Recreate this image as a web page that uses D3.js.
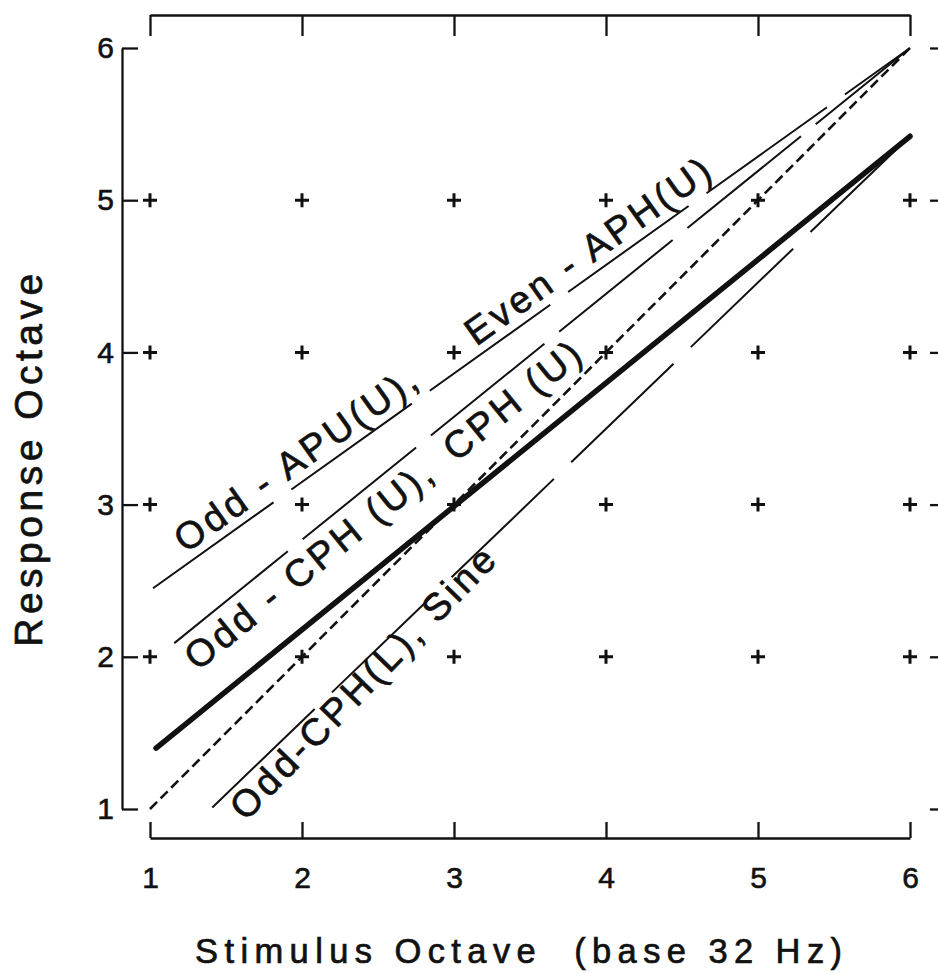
<!DOCTYPE html>
<html>
<head>
<meta charset="utf-8">
<script src="https://cdn.jsdelivr.net/npm/d3@7"></script>
<style>
  body { margin: 0; background: #fff; }
  svg { display: block; }
  text { font-family: "Liberation Sans", Arial, Helvetica, sans-serif; fill: #111; }
</style>
</head>
<body>
<div id="chart"></div>
<script>
// axis ticks (octaves)
var xTicks = [1, 2, 3, 4, 5, 6];
var yTicks = [1, 2, 3, 4, 5, 6];

// grid of little crosses
var gridX = [1, 2, 3, 4, 5, 6];
var gridY = [2, 3, 4, 5];

// lines, [stimulus, response] end points
var identityLine = [[1, 1], [6, 6]];
var meanLine = [[1.04, 1.40], [6.0, 5.42]];
var apuLine = [[1.02, 2.45], [6, 6]];
var cphULine = [[1.16, 2.09], [6, 6]];
var cphLLine = [[1.41, 1.01], [6, 5.42]];

// labels written along the thin lines
var labelTexts = ["Odd - APU(U),", "Even - APH(U)", "Odd - CPH (U),", "CPH (U)", "Odd-CPH(L), Sine"];
var labelLines = ["apu", "apu", "cphU", "cphU", "cphL"];
var labelStarts = [1.27, 3.18, 1.16, 2.86, 1.47];

var xTitle = "Stimulus Octave  (base 32 Hz)";
var yTitle = "Response Octave";

var width = 938;
var height = 974;

var lines = { apu: apuLine, cphU: cphULine, cphL: cphLLine };
// dash pattern of each thin line and where its label sits (px, + is below the line)
var thinDash = { apu: "148,22", cphU: "146,19", cphL: "142,24" };
var labelOffset = { apu: -9, cphU: 37, cphL: 34 };
var labelTilt = [0, 0, 0, 0, -2];   // small hand-lettering skew, degrees

var svg = d3.select("#chart")
  .append("svg")
    .attr("width", width)
    .attr("height", height);

svg.append("rect")
  .attr("width", width)
  .attr("height", height)
  .attr("fill", "#fff");

var x = d3.scaleLinear().domain([1, 6]).range([150, 910]);
var y = d3.scaleLinear().domain([1, 6]).range([809, 48]);

var line = d3.line()
  .x(function (d) { return x(d[0]); })
  .y(function (d) { return y(d[1]); });

// axes
svg.append("g")
  .attr("transform", "translate(122,0)")
  .call(d3.axisLeft(y).tickValues(yTicks).tickSize(-16).tickSizeOuter(0).tickPadding(8).tickFormat(d3.format("d")));

svg.append("g")
  .attr("transform", "translate(0,838)")
  .call(d3.axisBottom(x).tickValues(xTicks).tickSize(-16).tickSizeOuter(0).tickPadding(29).tickFormat(d3.format("d")));

svg.append("g")
  .attr("transform", "translate(0,15)")
  .call(d3.axisTop(x).tickValues(xTicks).tickSize(-21).tickSizeOuter(0).tickFormat(""));

svg.append("g")
  .attr("transform", "translate(948,0)")
  .call(d3.axisRight(y).tickValues(yTicks).tickSize(-18).tickSizeOuter(0).tickFormat(""));

svg.selectAll(".domain, .tick line")
  .attr("stroke", "#111")
  .attr("stroke-width", 2.3);

svg.selectAll(".tick text")
  .style("font-size", "30px")
  .attr("fill", "#111")
  .attr("stroke", "#111")
  .attr("stroke-width", 0.6);

// grid crosses
var cells = [];
gridY.forEach(function (gy) {
  gridX.forEach(function (gx) { cells.push([gx, gy]); });
});

svg.append("g")
  .selectAll("path")
  .data(cells)
  .enter()
  .append("path")
    .attr("transform", function (d) { return "translate(" + x(d[0]) + "," + y(d[1]) + ")"; })
    .attr("d", "M-7,0H7M0,-7V7")
    .attr("stroke", "#111")
    .attr("stroke-width", 3);

// identity (dashed)
svg.append("path")
  .attr("d", line(identityLine))
  .attr("fill", "none")
  .attr("stroke", "#111")
  .attr("stroke-width", 2.6)
  .attr("stroke-dasharray", "10,5");

// thin long-dash lines
Object.keys(lines).forEach(function (k) {
  svg.append("path")
    .attr("d", line(lines[k]))
    .attr("fill", "none")
    .attr("stroke", "#111")
    .attr("stroke-width", 2)
    .attr("stroke-dasharray", thinDash[k]);
});

// thick line
svg.append("path")
  .attr("d", line(meanLine))
  .attr("fill", "none")
  .attr("stroke", "#111")
  .attr("stroke-width", 5.5)
  .attr("stroke-linecap", "round");

// labels
labelTexts.forEach(function (t, i) {
  var k = labelLines[i];
  var l = lines[k];
  var x0 = x(l[0][0]), y0 = y(l[0][1]);
  var x1 = x(l[1][0]), y1 = y(l[1][1]);
  var ang = Math.atan2(y1 - y0, x1 - x0) * 180 / Math.PI + labelTilt[i];
  var f = (labelStarts[i] - l[0][0]) / (l[1][0] - l[0][0]);
  var px = x(labelStarts[i]);
  var py = y0 + f * (y1 - y0);
  svg.append("text")
    .attr("transform", "translate(" + px + "," + py + ") rotate(" + ang + ")")
    .attr("y", labelOffset[k])
    .attr("stroke", "#111")
    .attr("stroke-width", 0.7)
    .style("font-size", "38px")
    .style("letter-spacing", "3.6px")
    .style("white-space", "pre")
    .text(t);
});

// axis titles
svg.append("text")
  .attr("x", 195)
  .attr("y", 963)
  .attr("stroke", "#111")
  .attr("stroke-width", 0.7)
  .style("font-size", "34.5px")
  .style("letter-spacing", "6.4px")
  .style("white-space", "pre")
  .text(xTitle);

svg.append("text")
  .attr("transform", "translate(42,458) rotate(-90)")
  .attr("text-anchor", "middle")
  .attr("stroke", "#111")
  .attr("stroke-width", 0.7)
  .style("font-size", "39px")
  .style("letter-spacing", "4.5px")
  .text(yTitle);
</script>
</body>
</html>
